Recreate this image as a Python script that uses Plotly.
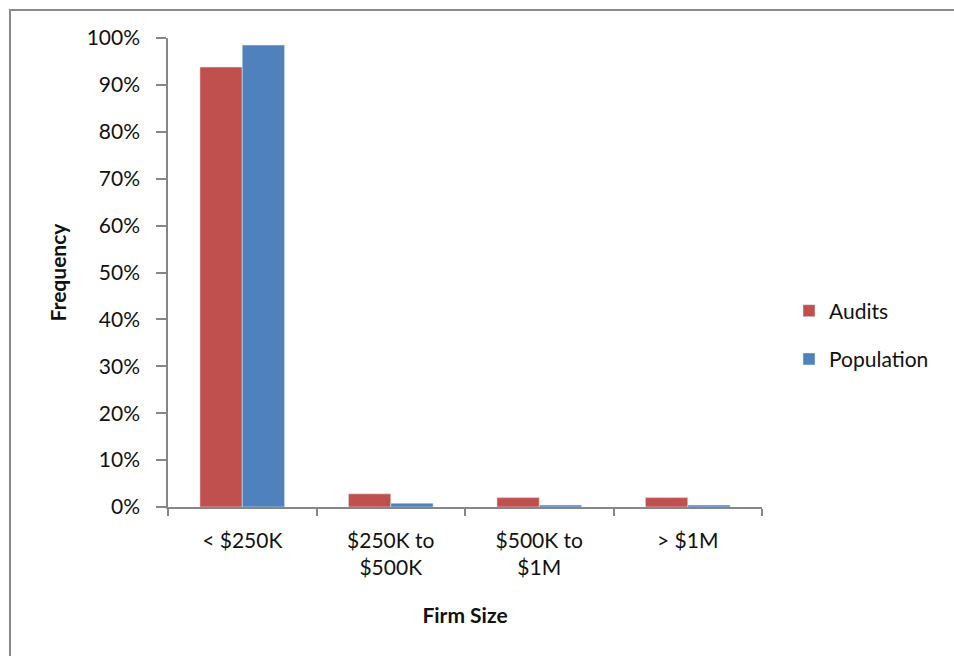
import plotly.graph_objects as go

categories = ["< $250K", "$250K to<br>$500K", "$500K to<br>$1M", "> $1M"]
audits = [0.938, 0.028, 0.020, 0.020]
population = [0.985, 0.008, 0.004, 0.004]
y_ticks = [0, 0.1, 0.2, 0.3, 0.4, 0.5, 0.6, 0.7, 0.8, 0.9, 1.0]

FONT = "Lato"
fig = go.Figure()
fig.add_trace(go.Bar(name="Audits", x=categories, y=audits, marker_color="#C0504D",
                     legendgroup="a"))
fig.add_trace(go.Bar(name="Population", x=categories, y=population, marker_color="#4F81BD",
                     legendgroup="p"))

W, H = 954, 656
l, r, t, b = 168, 192, 38, 149
pw, ph = W - l - r, H - t - b

fig.update_layout(
    width=W, height=H,
    margin=dict(l=l, r=r, t=t, b=b),
    paper_bgcolor="white", plot_bgcolor="white",
    barmode="group", bargap=0.43, bargroupgap=0,
    font=dict(family=FONT, size=21, color="#111"),
    legend=dict(x=(789 - l) / pw, y=(507 - 335) / ph, xanchor="left", yanchor="middle",
                traceorder="grouped", tracegroupgap=18, font=dict(size=21),
                itemwidth=30),
    xaxis=dict(
        showline=True, linecolor="#868686", linewidth=1.5,
        ticks="outside", tickson="boundaries", ticklen=7, tickcolor="#868686", tickwidth=1.5,
        tickfont=dict(size=21), ticklabelstandoff=14,
        title=dict(text="<b>Firm Size</b>", font=dict(size=21), standoff=30),
    ),
    yaxis=dict(
        range=[0, 1], tickvals=y_ticks, tickformat=".0%",
        showline=True, linecolor="#868686", linewidth=1.5,
        ticks="outside", ticklen=10, tickcolor="#868686", tickwidth=1.5,
        showgrid=False, zeroline=False,
        tickfont=dict(size=21), ticklabelstandoff=12,
        title=dict(text="<b>Frequency</b>", font=dict(size=21), standoff=14),
    ),
    shapes=[dict(type="rect", xref="paper", yref="paper",
                 x0=(10 - l) / pw, x1=(W + 20 - l) / pw,
                 y0=(507 - (H + 20)) / ph, y1=(507 - 10) / ph,
                 line=dict(color="#8a8a8a", width=2), layer="below")],
)
fig.write_html("out.html")
